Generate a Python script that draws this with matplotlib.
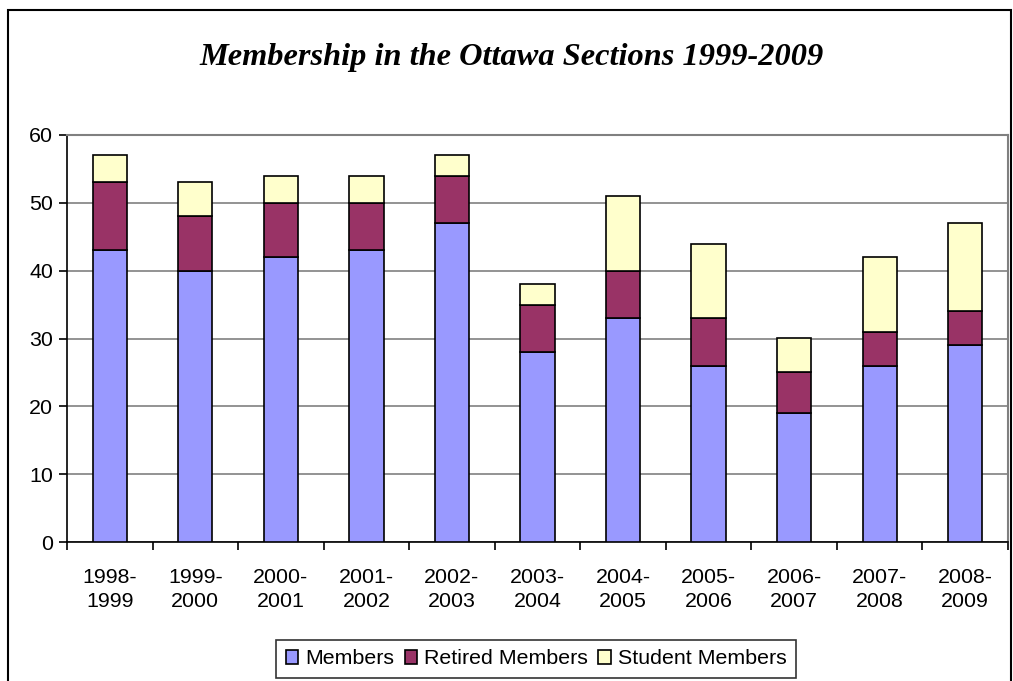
import matplotlib
matplotlib.use("Agg")
import matplotlib.pyplot as plt
from matplotlib.patches import Rectangle
import numpy as np

categories = ["1998-\n1999", "1999-\n2000", "2000-\n2001", "2001-\n2002", "2002-\n2003",
              "2003-\n2004", "2004-\n2005", "2005-\n2006", "2006-\n2007", "2007-\n2008", "2008-\n2009"]
members = [43, 40, 42, 43, 47, 28, 33, 26, 19, 26, 29]
retired = [10, 8, 8, 7, 7, 7, 7, 7, 6, 5, 5]
students = [4, 5, 4, 4, 3, 3, 11, 11, 5, 11, 13]

W, H = 1013, 681
fig = plt.figure(figsize=(W / 100, H / 100), dpi=100)
fig.patch.set_facecolor("white")
fig.patches.append(Rectangle((8 / W, -0.01), (1011 - 8) / W, (H - 10) / H + 0.01,
                             transform=fig.transFigure, fill=False, edgecolor="black", lw=1.5))

ax = fig.add_axes([67 / W, 1 - 542 / H, (1008 - 67) / W, (542 - 135) / H])
x = np.arange(len(categories))
bw = 0.40
kw = dict(width=bw, edgecolor="black", linewidth=1.2, zorder=3)
b1 = ax.bar(x, members, color="#9999FF", label="Members", **kw)
b2 = ax.bar(x, retired, bottom=members, color="#993366", label="Retired Members", **kw)
bot2 = [m + r for m, r in zip(members, retired)]
b3 = ax.bar(x, students, bottom=bot2, color="#FFFFCC", label="Student Members", **kw)

FS = 15.4
ax.set_xlim(-0.5, len(categories) - 0.5)
ax.set_ylim(0, 60)
ax.set_yticks(range(0, 61, 10))
ax.yaxis.grid(True, color="#808080", lw=1.2, zorder=0)
ax.set_xticks(np.arange(-0.5, len(categories), 1.0))
ax.set_xticklabels([])
ax.set_xticks(x, minor=True)
ax.set_xticklabels(categories, minor=True, fontsize=FS, family="Liberation Sans", linespacing=1.3)
ax.tick_params(axis="x", which="minor", length=0, pad=19)
ax.tick_params(axis="x", which="major", length=6, width=1.2, direction="out")
ax.tick_params(axis="y", length=6, width=1.2, labelsize=FS, pad=4)
for lab in ax.get_yticklabels():
    lab.set_family("Liberation Sans")
ax.spines["left"].set_color("black")
ax.spines["bottom"].set_color("black")
ax.spines["left"].set_linewidth(1.2)
ax.spines["bottom"].set_linewidth(1.2)
ax.spines["top"].set_color("#808080")
ax.spines["right"].set_color("#808080")
ax.spines["top"].set_linewidth(1.5)
ax.spines["right"].set_linewidth(1.5)

fig.text(512 / W, 1 - 57 / H, "Membership in the Ottawa Sections 1999-2009", ha="center", va="center",
         fontsize=23.3, fontweight="bold", style="italic", family="Liberation Serif")

leg = fig.legend(handles=[b1, b2, b3], loc="center", bbox_to_anchor=(536 / W, 1 - 659 / H),
                 ncol=3, frameon=True, fancybox=False, edgecolor="black",
                 prop={"family": "Liberation Sans", "size": FS},
                 handlelength=0.6, handleheight=0.6, handletextpad=0.3, columnspacing=0.5,
                 borderpad=0.45)
leg.get_frame().set_linewidth(1.2)

fig.savefig("out.png", dpi=100)
